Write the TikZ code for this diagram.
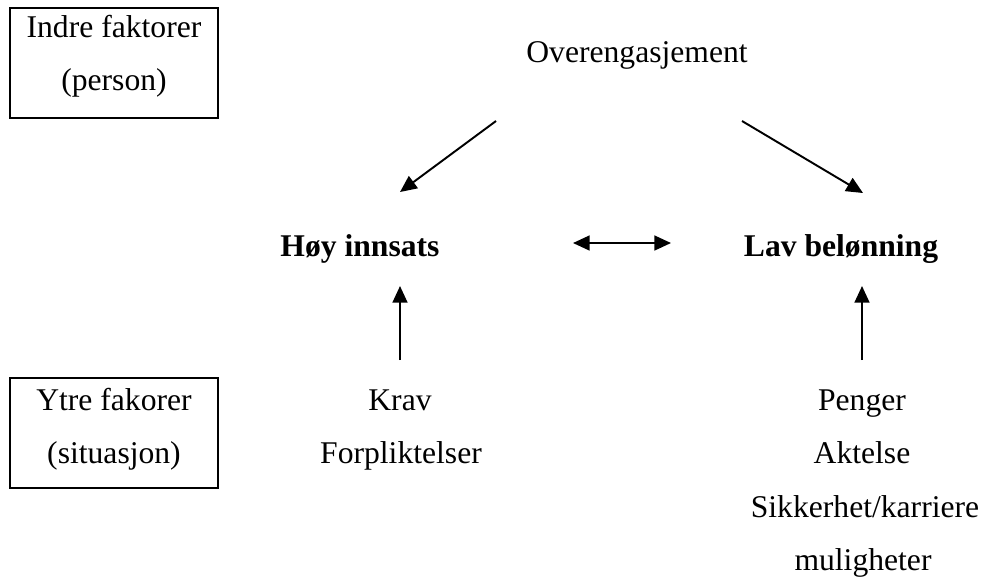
\documentclass[tikz,border=0pt]{standalone}
\usepackage{fontspec}
\setmainfont{Liberation Serif}
\usetikzlibrary{positioning,arrows.meta}

\tikzset{
  txt/.style={anchor=base,inner sep=0pt,font=\fontsize{18}{22}\selectfont},
  hd/.style={txt,font=\fontsize{18}{22}\selectfont\bfseries},
  factor/.style={draw,line width=1.3pt,minimum width=208*0.02cm,minimum height=110*0.02cm,inner sep=0pt},
  tip/.tip={Triangle[length=9.5pt,width=8.5pt]},
  pil/.style={line width=1.1pt,-tip},
}

\begin{document}
\begin{tikzpicture}[x=0.02cm,y=-0.02cm]
\useasboundingbox (0,0) rectangle (986,583);

% boxes left
\node[factor] (indre) at (114,63) {};
\node[txt] (indretxt) at (114,37) {Indre faktorer};
\node[txt] (person) at (114,90) {(person)};
\node[factor] (ytre) at (114,433) {};
\node[txt] (ytretxt) at (114,410) {Ytre fakorer};
\node[txt] (situ) at (114,463) {(situasjon)};

% main terms
\node[txt] (over) at (637,62) {Overengasjement};
\node[hd] (hoy) at (360,256) {Høy innsats};
\node[hd] (lav) at (841,256) {Lav belønning};

% lists
\node[txt] (krav) at (400,410) {Krav};
\node[txt] (forpl) at (401,463) {Forpliktelser};
\node[txt] (penger) at (862,410) {Penger};
\node[txt] (aktelse) at (862,463) {Aktelse};
\node[txt] (sikk) at (865,517) {Sikkerhet/karriere};
\node[txt] (mulig) at (863,570) {muligheter};

% arrow ends
\coordinate (a1) at (496,121);
\coordinate (b1) at (400,192);
\coordinate (a2) at (742,121);
\coordinate (b2) at (863,193);
\coordinate (dl) at (573,243);
\coordinate (dr) at (671,243);
\coordinate (k1) at (400,360);
\coordinate (k2) at (400,286);
\coordinate (p1) at (862,360);
\coordinate (p2) at (862,286);

\draw[pil] (a1) -- (b1);
\draw[pil] (a2) -- (b2);
\draw[pil,tip-tip] (dl) -- (dr);
\draw[pil] (k1) -- (k2);
\draw[pil] (p1) -- (p2);
\end{tikzpicture}
\end{document}
